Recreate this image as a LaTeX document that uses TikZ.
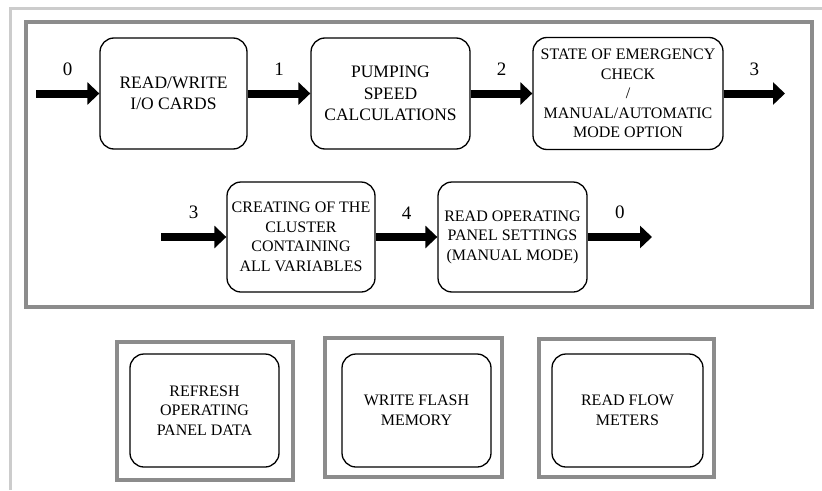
\documentclass[tikz,border=0pt]{standalone}
\usepackage{fontspec}
\setmainfont{Liberation Serif}
\usetikzlibrary{arrows.meta}

\begin{document}
\begin{tikzpicture}[x=1pt,y=-1pt,
  task/.style={draw,line width=1.3pt,rounded corners=14pt,align=center,
    inner sep=0pt,font=\fontsize{16}{19.5}\selectfont},
  bigtask/.style={task,font=\fontsize{17.5}{21.5}\selectfont},
  flow/.style={line width=8pt,-{Triangle[length=12pt,width=22pt]}},
  num/.style={midway,above=14pt,inner sep=0pt,font=\fontsize{19}{19}\selectfont},
  grayframe/.style={draw=black!45,line width=4pt}]
   \useasboundingbox (0,0) rectangle (822,490);
   \draw[black!20,line width=3pt] (10,490) -- (10,8) -- (822,8);
   \draw[grayframe] (26,22) rectangle (812,307);

   % main loop, first line
   \node[bigtask,minimum width=147pt,minimum height=111pt] (rwio) at (173.5,93.5)
     {READ/WRITE\\I/O CARDS};
   \node[bigtask,minimum width=159pt,minimum height=111pt] (pump) at (390.5,93.5)
     {PUMPING\\SPEED\\CALCULATIONS};
   \node[task,minimum width=190pt,minimum height=112pt] (state) at (628,93.5)
     {STATE OF EMERGENCY\\CHECK\\/\\MANUAL/AUTOMATIC\\MODE OPTION};
   \coordinate (in0) at (36,93.5);
   \coordinate (out3) at (785,93.5);
   \draw[flow] (in0) -- node[num]{0} (rwio);
   \draw[flow] (rwio) -- node[num]{1} (pump);
   \draw[flow] (pump) -- node[num]{2} (state);
   \draw[flow] (state) -- node[num]{3} (out3);

   % main loop, second line
   \node[task,minimum width=148pt,minimum height=110pt] (cluster) at (301,237)
     {CREATING OF THE\\CLUSTER\\CONTAINING\\ALL VARIABLES};
   \node[task,minimum width=149pt,minimum height=110pt] (panel) at (512.5,237)
     {READ OPERATING\\PANEL SETTINGS\\(MANUAL MODE)};
   \coordinate (in3) at (161,237);
   \coordinate (out0) at (652,237);
   \draw[flow] (in3) -- node[num]{3} (cluster);
   \draw[flow] (cluster) -- node[num]{4} (panel);
   \draw[flow] (panel) -- node[num]{0} (out0);

   % side tasks
   \draw[grayframe] (117,342) rectangle (293,480);
   \draw[grayframe] (325,338) rectangle (502,477);
   \draw[grayframe] (539,339) rectangle (714,477);
   \node[task,minimum width=149pt,minimum height=113pt] (refresh) at (204.5,410.5)
     {REFRESH\\OPERATING\\PANEL DATA};
   \node[task,minimum width=149pt,minimum height=113pt] (flash) at (416.5,410.5)
     {WRITE FLASH\\MEMORY};
   \node[task,minimum width=151pt,minimum height=113pt] (meters) at (627.5,410.5)
     {READ FLOW\\METERS};
 \end{tikzpicture}
\end{document}
